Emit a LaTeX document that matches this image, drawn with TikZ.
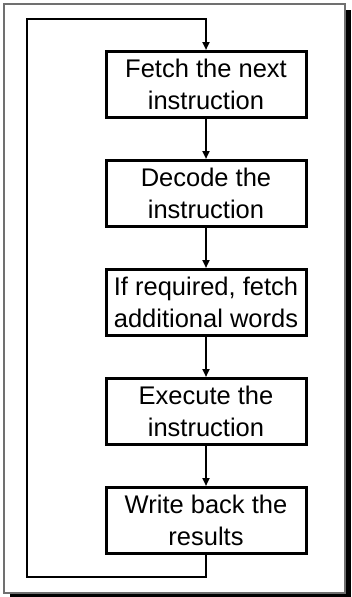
\documentclass[tikz,border=0pt]{standalone}
\usepackage{fontspec}
\setmainfont{Liberation Sans}
\usetikzlibrary{positioning,arrows.meta}
\definecolor{cFrame}{HTML}{707070}
\tikzset{
  stepbox/.style={draw=black,line width=3pt,minimum width=200pt,minimum height=66pt,align=center,inner sep=2pt,font=\fontsize{25.5}{32}\selectfont},
  flow/.style={-{Triangle[length=8pt,width=7pt]},line width=2pt},
  loopback/.style={-{Triangle[length=8pt,width=7pt]},line width=2.5pt},
}
\begin{document}
\begin{tikzpicture}[x=1pt,y=-1pt,node distance=40pt]
  \useasboundingbox (0,0) rectangle (351,597);
  % framed panel with drop shadow
  \fill[black] (10,10) rectangle (351,597);
  \draw[cFrame,fill=white,line width=1.2pt] (4,4) rectangle (345,593);

  \node[stepbox] (fetch) at (206,84.5) {Fetch the next\\instruction};
  \node[stepbox,below=of fetch] (decode) {Decode the\\instruction};
  \node[stepbox,below=of decode] (words) {If required, fetch\\additional words};
  \node[stepbox,below=of words] (exec) {Execute the\\instruction};
  \node[stepbox,below=of exec] (write) {Write back the\\results};
  \coordinate (loopL) at (27,19);

  \draw[flow] (fetch) -- (decode);
  \draw[flow] (decode) -- (words);
  \draw[flow] (words) -- (exec);
  \draw[flow] (exec) -- (write);
  \draw[loopback] (write.south) -- ++(0,22) -| (loopL) -| (fetch.north);
\end{tikzpicture}
\end{document}
